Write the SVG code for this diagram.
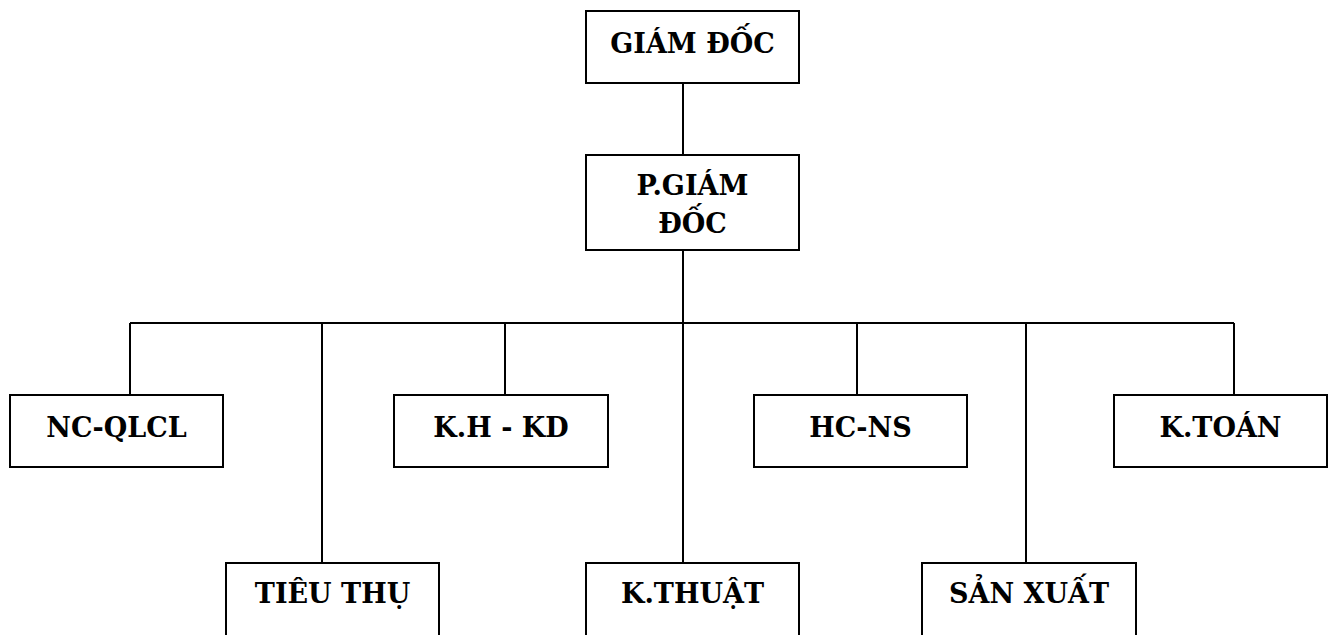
<svg xmlns="http://www.w3.org/2000/svg" width="1335" height="635" viewBox="0 0 1335 635">
<style>
.box{fill:#fff;stroke:#000;stroke-width:2}
.lbl{font-family:'DejaVu Serif','Liberation Serif',serif;font-weight:700;font-size:27px;fill:#000;text-anchor:middle}
.con{stroke:#000;stroke-width:2;fill:none}
</style>
<rect width="1335" height="635" fill="#fff"/>
<g id="connectors">
<line class="con" x1="683" y1="83" x2="683" y2="155"/>
<line class="con" x1="683" y1="250" x2="683" y2="563"/>
<line class="con" x1="130" y1="323" x2="1234" y2="323"/>
<line class="con" x1="130" y1="323" x2="130" y2="395"/>
<line class="con" x1="322" y1="323" x2="322" y2="563"/>
<line class="con" x1="505" y1="323" x2="505" y2="395"/>
<line class="con" x1="857" y1="323" x2="857" y2="395"/>
<line class="con" x1="1026" y1="323" x2="1026" y2="563"/>
<line class="con" x1="1234" y1="323" x2="1234" y2="395"/>
</g>
<g id="giam-doc">
<rect class="box" x="586" y="11" width="213" height="72"/>
<text class="lbl" x="692.5" y="53">GIÁM ĐỐC</text>
</g>
<g id="p-giam-doc">
<rect class="box" x="586" y="155" width="213" height="95"/>
<text class="lbl" x="692.5" y="195">P.GIÁM</text>
<text class="lbl" x="692.5" y="233">ĐỐC</text>
</g>
<g id="nc-qlcl">
<rect class="box" x="10" y="395" width="213" height="72"/>
<text class="lbl" x="116.5" y="437">NC-QLCL</text>
</g>
<g id="kh-kd">
<rect class="box" x="394" y="395" width="214" height="72"/>
<text class="lbl" x="501" y="437">K.H - KD</text>
</g>
<g id="hc-ns">
<rect class="box" x="754" y="395" width="213" height="72"/>
<text class="lbl" x="860.5" y="437">HC-NS</text>
</g>
<g id="k-toan">
<rect class="box" x="1114" y="395" width="213" height="72"/>
<text class="lbl" x="1220.5" y="437">K.TOÁN</text>
</g>
<g id="tieu-thu">
<rect class="box" x="226" y="563" width="213" height="90"/>
<text class="lbl" x="332.5" y="603">TIÊU THỤ</text>
</g>
<g id="k-thuat">
<rect class="box" x="586" y="563" width="213" height="90"/>
<text class="lbl" x="692.5" y="603">K.THUẬT</text>
</g>
<g id="san-xuat">
<rect class="box" x="922" y="563" width="214" height="90"/>
<text class="lbl" x="1029" y="603">SẢN XUẤT</text>
</g>
</svg>
